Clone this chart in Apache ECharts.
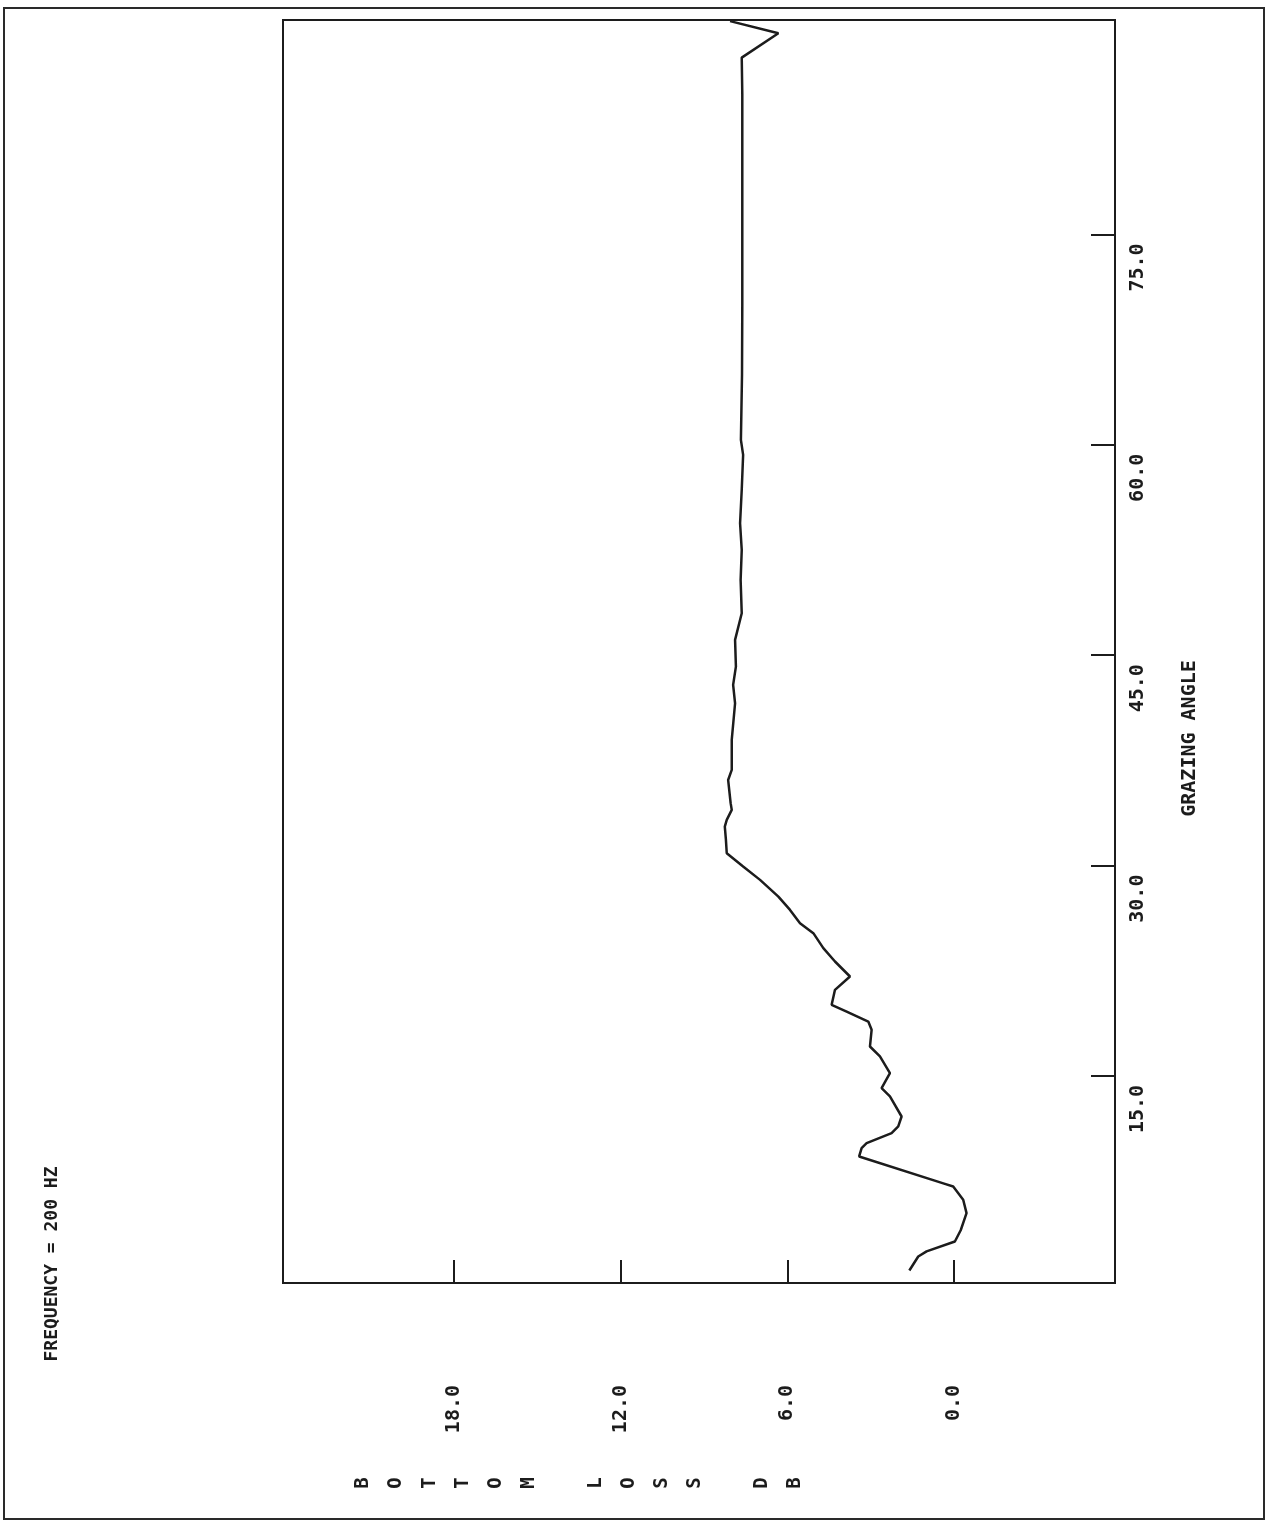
<!DOCTYPE html>
<html>
<head>
<meta charset="utf-8">
<script src="https://cdn.jsdelivr.net/npm/echarts@6/dist/echarts.min.js"></script>
<style>
html,body{margin:0;padding:0;background:#fff;}
#chart{width:1273px;height:1522px;}
</style>
</head>
<body>
<div id="chart"></div>
<script>
// Grazing angle (degrees)
const grazingAngle = [
  1.13, 2.13, 2.49, 3.20, 4.0, 5.22, 6.17, 7.12, 7.31, 9.26, 9.86, 10.21, 10.93, 11.40,
  12.11, 13.54, 14.13, 15.20, 16.39, 17.10, 18.29, 18.88, 19.59, 20.07, 21.14, 22.09,
  23.16, 24.11, 25.18, 25.89, 26.84, 27.79, 28.98, 29.93, 30.88, 31.83, 32.78, 33.26,
  33.97, 34.45, 36.10, 36.82, 38.96, 41.57, 42.88, 44.18, 46.09, 47.99, 50.36, 52.50,
  54.40, 56.79, 59.28, 60.35, 65.0, 70.0, 75.0, 80.0, 85.0, 87.6, 89.33, 90.2
];
// Bottom loss (dB) at each angle
const bottomLoss = [
  1.60, 1.28, 0.98, -0.04, -0.25, -0.46, -0.34, 0.02, 0.32, 3.41, 3.32, 3.14, 2.24, 2.00,
  1.88, 2.30, 2.60, 2.30, 2.66, 3.02, 2.96, 3.08, 3.86, 4.40, 4.28, 3.74,
  4.28, 4.70, 5.06, 5.54, 5.90, 6.32, 6.98, 7.59, 8.18, 8.21, 8.25, 8.18,
  8.00, 8.04, 8.13, 8.00, 8.00, 7.88, 7.95, 7.85, 7.88, 7.64, 7.68, 7.64,
  7.70, 7.64, 7.59, 7.67, 7.63, 7.62, 7.62, 7.62, 7.62, 7.64, 6.32, 8.06
];
const lossTicks = [0, 6, 12, 18];
const angleTicks = [15, 30, 45, 60, 75];
const titleText = 'FREQUENCY = 200 HZ';
const lossName = 'BOTTOM LOSS DB';
const angleName = 'GRAZING ANGLE';

const ink = '#1c1c1c';
const mono = '"DejaVu Sans Mono", "Liberation Mono", monospace';
const stacked = lossName.split('').join('\n');

const chart = echarts.init(document.getElementById('chart'), null, {renderer: 'canvas'});
chart.setOption({
  animation: false,
  backgroundColor: '#ffffff',
  grid: {left: 283, right: 158, top: 20, bottom: 239, show: true, borderColor: ink, borderWidth: 2, backgroundColor: 'transparent'},
  xAxis: {
    type: 'value', inverse: true, min: -5.81, max: 24.17, position: 'bottom',
    axisLine: {show: true, onZero: false, lineStyle: {color: ink, width: 2}},
    axisTick: {show: true, inside: true, length: 23, customValues: lossTicks, lineStyle: {color: ink, width: 2}},
    axisLabel: {show: true, customValues: lossTicks, rotate: 90, margin: 102, align: 'right', verticalAlign: 'middle',
      fontFamily: mono, fontSize: 20, fontWeight: 'bold', color: ink, formatter: v => Number(v).toFixed(1)},
    splitLine: {show: false}
  },
  yAxis: {
    type: 'value', min: 0.24, max: 90.28, position: 'right',
    name: angleName, nameLocation: 'middle', nameGap: 75, nameRotate: 90,
    nameTextStyle: {fontFamily: mono, fontSize: 20, fontWeight: 'bold', color: ink,
      align: 'center', verticalAlign: 'middle', padding: [0, 174, 0, 0]},
    axisLine: {show: true, onZero: false, lineStyle: {color: ink, width: 2}},
    axisTick: {show: true, inside: true, length: 24, customValues: angleTicks, lineStyle: {color: ink, width: 2}},
    axisLabel: {show: true, customValues: angleTicks, rotate: 90, margin: 13, align: 'right', verticalAlign: 'top',
      padding: [0, 9, 0, 0],
      fontFamily: mono, fontSize: 20, fontWeight: 'bold', color: ink, formatter: v => Number(v).toFixed(1)},
    splitLine: {show: false}
  },
  graphic: [
    {type: 'rect', shape: {x: 4, y: 8, width: 1260, height: 1511}, style: {fill: 'none', stroke: '#2a2a2a', lineWidth: 2}, silent: true},
    {type: 'text', x: 52, y: 1264, rotation: Math.PI / 2,
      style: {text: titleText, fontFamily: mono, fontSize: 18, fontWeight: 'bold', fill: ink, align: 'center', verticalAlign: 'middle'}},
    {type: 'text', x: 579, y: 1483, rotation: Math.PI / 2,
      style: {text: stacked, fontFamily: mono, fontSize: 19, fontWeight: 'bold', fill: ink, lineHeight: 33.2,
        align: 'center', verticalAlign: 'middle'}}
  ],
  series: [{
    type: 'line',
    data: grazingAngle.map((a, i) => [bottomLoss[i], a]),
    showSymbol: false, symbol: 'none', smooth: false,
    lineStyle: {color: ink, width: 2.5},
    clip: true
  }]
});
</script>
</body>
</html>
